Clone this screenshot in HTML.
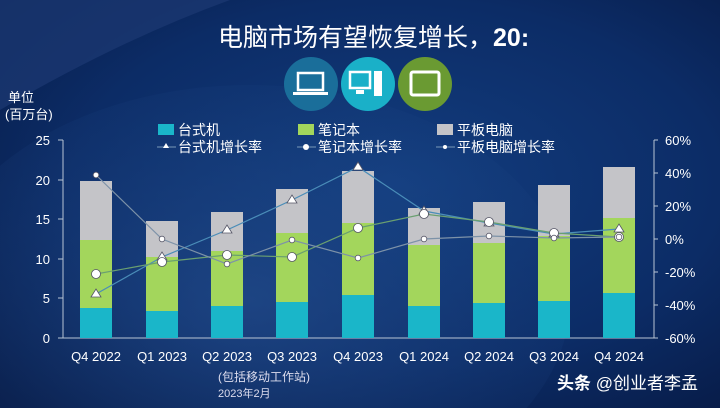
<!DOCTYPE html>
<html><head><meta charset="utf-8"><style>
html,body{margin:0;padding:0;width:720px;height:408px;overflow:hidden;}
body{background:#0b2556;}
svg{display:block;overflow:hidden;font-family:"Liberation Sans","Noto Sans CJK SC",sans-serif;}
</style></head><body>
<svg width="720" height="408" viewBox="0 0 720 408" xmlns="http://www.w3.org/2000/svg">
<defs>
<radialGradient id="bg" cx="0.55" cy="0.45" r="0.75">
<stop offset="0" stop-color="#123d7f"/><stop offset="0.6" stop-color="#0c2c66"/><stop offset="1" stop-color="#071a45"/>
</radialGradient>
<radialGradient id="glow" cx="0.5" cy="0.5" r="0.5">
<stop offset="0" stop-color="#2a5596" stop-opacity="0.55"/><stop offset="1" stop-color="#1d4584" stop-opacity="0.15"/>
</radialGradient>
</defs>
<rect width="720" height="408" fill="url(#bg)"/>
<path d="M0,0 L230,0 Q120,40 0,110 Z" fill="#1a3770" opacity="0.8"/>
<ellipse cx="250" cy="300" rx="320" ry="215" fill="url(#glow)"/>
<text x="218" y="46" font-size="25" fill="#fff">电脑市场有望恢复增长，<tspan font-weight="bold">20:</tspan></text>
<circle cx="311" cy="84" r="27" fill="#1a6e9a"/>
<rect x="298" y="73" width="25" height="17" fill="none" stroke="#fff" stroke-width="2.5"/>
<rect x="293" y="92" width="35" height="3" fill="#fff"/>
<circle cx="368" cy="84" r="27" fill="#1ab0c8"/>
<rect x="350" y="72" width="20" height="16" fill="none" stroke="#fff" stroke-width="2.5"/>
<rect x="356" y="90" width="8" height="4" fill="#fff"/>
<rect x="374" y="71" width="8" height="25" fill="#fff"/>
<circle cx="425" cy="84" r="27" fill="#6a9a32"/>
<rect x="411" y="72" width="28" height="23" rx="2" fill="none" stroke="#fff" stroke-width="3"/>
<text x="8" y="102" font-size="13" fill="#fff">单位</text>
<text x="5" y="119" font-size="13" fill="#fff">(百万台)</text>
<rect x="158" y="124" width="16" height="11" fill="#1ab6c9"/><text x="178" y="135" font-size="14" fill="#fff">台式机</text>
<rect x="298" y="124" width="16" height="11" fill="#a3d65c"/><text x="318" y="135" font-size="14" fill="#fff">笔记本</text>
<rect x="437" y="124" width="16" height="11" fill="#c4c4c8"/><text x="457" y="135" font-size="14" fill="#fff">平板电脑</text>
<line x1="157" y1="147" x2="176" y2="147" stroke="#7a9ab8"/><path d="M166,143 l3,5 h-6z" fill="#fff"/><text x="178" y="152" font-size="14" fill="#fff">台式机增长率</text>
<line x1="297" y1="147" x2="316" y2="147" stroke="#7a9ab8"/><circle cx="306" cy="147" r="3" fill="#fff"/><text x="318" y="152" font-size="14" fill="#fff">笔记本增长率</text>
<line x1="436" y1="147" x2="455" y2="147" stroke="#7a9ab8"/><circle cx="445" cy="147" r="2" fill="#fff"/><text x="457" y="152" font-size="14" fill="#fff">平板电脑增长率</text>
<g font-size="13" fill="#fff" text-anchor="end">
<text x="50" y="145">25</text><text x="50" y="185">20</text><text x="50" y="224">15</text><text x="50" y="264">10</text><text x="50" y="303">5</text><text x="50" y="343">0</text>
</g>
<g font-size="13" fill="#fff">
<text x="665" y="145">60%</text><text x="665" y="178">40%</text><text x="665" y="211">20%</text><text x="665" y="244">0%</text><text x="665" y="277">-20%</text><text x="665" y="310">-40%</text><text x="665" y="343">-60%</text>
</g>
<g stroke="#b8c4d4" stroke-width="1">
<line x1="63" y1="140" x2="63" y2="338"/><line x1="58" y1="338" x2="658" y2="338"/>
<line x1="58" y1="140" x2="63" y2="140"/><line x1="58" y1="180" x2="63" y2="180"/><line x1="58" y1="219" x2="63" y2="219"/><line x1="58" y1="259" x2="63" y2="259"/><line x1="58" y1="298" x2="63" y2="298"/>
<line x1="654" y1="140" x2="654" y2="338"/>
<line x1="654" y1="140" x2="658" y2="140"/><line x1="654" y1="173" x2="658" y2="173"/><line x1="654" y1="206" x2="658" y2="206"/><line x1="654" y1="239" x2="658" y2="239"/><line x1="654" y1="272" x2="658" y2="272"/><line x1="654" y1="305" x2="658" y2="305"/>
</g>
<g>
<rect x="80" y="308" width="32" height="30" fill="#1ab6c9"/><rect x="80" y="240" width="32" height="68" fill="#a3d65c"/><rect x="80" y="181" width="32" height="59" fill="#c4c4c8"/>
<rect x="146" y="311" width="32" height="27" fill="#1ab6c9"/><rect x="146" y="257" width="32" height="54" fill="#a3d65c"/><rect x="146" y="221" width="32" height="36" fill="#c4c4c8"/>
<rect x="211" y="306" width="32" height="32" fill="#1ab6c9"/><rect x="211" y="251" width="32" height="55" fill="#a3d65c"/><rect x="211" y="212" width="32" height="39" fill="#c4c4c8"/>
<rect x="276" y="302" width="32" height="36" fill="#1ab6c9"/><rect x="276" y="233" width="32" height="69" fill="#a3d65c"/><rect x="276" y="189" width="32" height="44" fill="#c4c4c8"/>
<rect x="342" y="295" width="32" height="43" fill="#1ab6c9"/><rect x="342" y="223" width="32" height="72" fill="#a3d65c"/><rect x="342" y="171" width="32" height="52" fill="#c4c4c8"/>
<rect x="408" y="306" width="32" height="32" fill="#1ab6c9"/><rect x="408" y="245" width="32" height="61" fill="#a3d65c"/><rect x="408" y="208" width="32" height="37" fill="#c4c4c8"/>
<rect x="473" y="303" width="32" height="35" fill="#1ab6c9"/><rect x="473" y="243" width="32" height="60" fill="#a3d65c"/><rect x="473" y="202" width="32" height="41" fill="#c4c4c8"/>
<rect x="538" y="301" width="32" height="37" fill="#1ab6c9"/><rect x="538" y="236" width="32" height="65" fill="#a3d65c"/><rect x="538" y="185" width="32" height="51" fill="#c4c4c8"/>
<rect x="603" y="293" width="32" height="45" fill="#1ab6c9"/><rect x="603" y="218" width="32" height="75" fill="#a3d65c"/><rect x="603" y="167" width="32" height="51" fill="#c4c4c8"/>
</g>
<g fill="none" stroke-width="1.2">
<polyline stroke="#4a8db8" points="96,294 162,257 227,230 292,200 358,167 424,211 489,223 554,234 619,229"/>
<polyline stroke="#6aa070" points="96,274 162,262 227,255 292,257 358,228 424,214 489,222 554,233 619,237"/>
<polyline stroke="#7d92a8" points="96,175 162,239 227,264 292,240 358,258 424,239 489,236 554,238 619,237"/>
</g>
<g fill="#fff" stroke="#556" stroke-width="0.8">
<g><path d="M96,289 l5,8 h-10z"/><path d="M162,252 l5,8 h-10z"/><path d="M227,225 l5,8 h-10z"/><path d="M292,195 l5,8 h-10z"/><path d="M358,162 l5,8 h-10z"/><path d="M424,206 l5,8 h-10z"/><path d="M489,218 l5,8 h-10z"/><path d="M554,229 l5,8 h-10z"/><path d="M619,224 l5,8 h-10z"/></g>
<circle cx="96" cy="274" r="4.5"/><circle cx="162" cy="262" r="4.5"/><circle cx="227" cy="255" r="4.5"/><circle cx="292" cy="257" r="4.5"/><circle cx="358" cy="228" r="4.5"/><circle cx="424" cy="214" r="4.5"/><circle cx="489" cy="222" r="4.5"/><circle cx="554" cy="233" r="4.5"/><circle cx="619" cy="237" r="4.5"/>
<circle cx="96" cy="175" r="2.8"/><circle cx="162" cy="239" r="2.8"/><circle cx="227" cy="264" r="2.8"/><circle cx="292" cy="240" r="2.8"/><circle cx="358" cy="258" r="2.8"/><circle cx="424" cy="239" r="2.8"/><circle cx="489" cy="236" r="2.8"/><circle cx="554" cy="238" r="2.8"/><circle cx="619" cy="237" r="2.8"/>
</g>
<g font-size="13" fill="#fff" text-anchor="middle">
<text x="96" y="361">Q4 2022</text><text x="162" y="361">Q1 2023</text><text x="227" y="361">Q2 2023</text><text x="292" y="361">Q3 2023</text><text x="358" y="361">Q4 2023</text><text x="424" y="361">Q1 2024</text><text x="489" y="361">Q2 2024</text><text x="554" y="361">Q3 2024</text><text x="619" y="361">Q4 2024</text>
</g>
<text x="218" y="381" font-size="12" fill="#dde">(包括移动工作站)</text>
<text x="218" y="397" font-size="11" fill="#dde">2023年2月</text>
<text x="557" y="389" font-size="17" fill="#fff"><tspan font-weight="bold">头条</tspan> @创业者李孟</text>
</svg>
</body></html>
